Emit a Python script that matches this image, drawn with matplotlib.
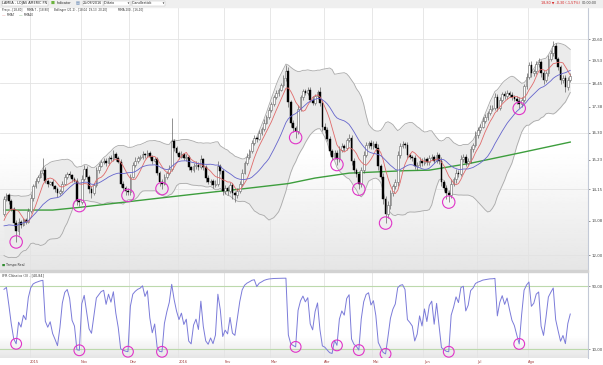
import numpy as np
import pandas as pd
import matplotlib
matplotlib.use("Agg")
import matplotlib.pyplot as plt
from matplotlib.patches import Rectangle
from matplotlib.transforms import blended_transform_factory

# LAME4 daily closes, one list per month (Sep/2015 - Aug/2016)
# closes before the visible window, only needed to seed MMA20 / Bollinger / IFR
warmup_closes = [13.90, 13.70, 13.40, 13.60, 13.20, 12.80, 12.50, 12.20, 12.50, 12.80,
                 12.40, 12.20, 12.50, 12.80, 12.70, 13.00, 12.80, 13.10, 12.90, 13.30]

closes_sep = [13.80, 13.95, 13.75, 13.45, 13.00, 12.75, 13.05, 12.95, 13.10, 13.05, 13.40]
closes_oct = [13.85, 14.25, 14.45, 14.60, 14.75, 14.85, 14.45, 14.35, 14.40, 14.25,
              14.15, 14.00, 14.10, 14.35, 14.60, 14.70, 14.65, 14.50, 14.45, 13.75, 13.70]
closes_nov = [14.50, 14.90, 14.60, 14.15, 14.00, 14.30, 14.85, 15.00, 15.15, 15.20,
              15.10, 15.30, 15.25, 15.45, 15.30, 15.15, 14.35, 14.20, 14.10, 14.05]
closes_dec = [14.60, 15.05, 15.20, 15.30, 15.35, 15.45, 15.40, 15.50, 15.35, 15.20,
              15.25, 14.75, 14.40, 14.35, 14.60, 14.75, 14.90, 15.95, 15.70, 15.50]
closes_jan = [15.35, 15.45, 15.30, 15.35, 14.95, 14.85, 15.00, 15.05, 14.95, 15.25,
              14.95, 14.55, 14.40, 14.45, 14.30, 14.35, 15.00, 14.80, 14.10]
closes_feb = [14.20, 14.10, 14.30, 14.00, 13.95, 14.10, 14.35, 14.75, 15.10, 15.35,
              15.55, 15.90, 16.10, 16.05, 16.30, 16.45, 16.70, 16.95, 17.25]
closes_mar = [17.50, 17.80, 18.00, 18.15, 18.35, 18.70, 19.00, 17.60, 16.70, 16.50,
              16.35, 17.30, 17.80, 18.10, 18.00, 18.15, 17.70, 17.55, 17.85, 18.05, 17.55, 16.55]
closes_apr = [16.40, 16.05, 15.55, 15.35, 15.50, 15.25, 15.60, 15.75, 15.70, 16.00,
              16.10, 15.20, 14.85, 14.70, 14.35, 14.85, 15.40, 15.80, 15.90, 15.75]
closes_may = [15.85, 15.70, 15.00, 14.60, 13.80, 13.30, 13.60, 14.00, 14.25, 14.40,
              15.40, 15.75, 15.85, 15.80, 15.40, 15.35, 15.30, 15.00, 15.05, 15.20, 15.10]
closes_jun = [15.25, 15.15, 15.30, 15.35, 15.20, 15.40, 15.20, 14.40, 14.20, 14.00,
              13.95, 14.35, 14.50, 14.75, 14.70, 15.25, 15.35, 15.10, 15.20, 15.65, 15.80, 16.20]
closes_jul = [16.40, 16.55, 16.80, 16.95, 17.10, 17.30, 17.35, 17.80, 17.35, 17.70,
              17.95, 17.85, 18.00, 17.90, 17.80, 17.75, 17.65, 17.50, 17.70, 18.30, 18.75]
closes_aug = [19.30, 18.90, 19.00, 19.35, 19.45, 18.90, 18.60, 18.90, 19.60, 19.90,
              20.25, 19.60, 19.20, 18.60, 18.70, 18.25, 18.60, 18.80]

# wick lengths in centavos (above body / below body)
upper_wick = [10, 8, 6, 5, 8, 10, 12, 6, 8, 5, 10,
              12, 8, 10, 6, 8, 45, 10, 8, 6, 10, 5, 8, 6, 10, 8, 6, 12, 5, 8, 10, 6,
              15, 12, 8, 6, 10, 8, 12, 10, 6, 8, 10, 6, 12, 15, 8, 6, 10, 8, 6, 10,
              10, 8, 12, 6, 8, 10, 6, 12, 8, 6, 10, 8, 6, 10, 8, 6, 12, 95, 10, 8,
              8, 12, 6, 10, 8, 6, 10, 12, 8, 15, 6, 8, 10, 6, 8, 12, 20, 8, 10,
              10, 8, 12, 6, 8, 10, 8, 12, 10, 15, 8, 12, 10, 8, 12, 10, 15, 8, 12,
              12, 10, 15, 8, 12, 15, 30, 20, 10, 12, 8, 15, 12, 10, 8, 12, 10, 15, 12, 8, 20, 15,
              15, 12, 10, 8, 12, 10, 15, 12, 8, 10, 15, 12, 10, 8, 12, 10, 15, 12, 8, 10,
              12, 10, 15, 8, 12, 10, 15, 12, 8, 10, 15, 12, 10, 8, 12, 10, 8, 12, 10, 15, 8,
              10, 8, 12, 10, 8, 12, 10, 15, 8, 10, 12, 15, 10, 12, 8, 15, 12, 10, 8, 12, 10, 15,
              12, 10, 15, 12, 10, 15, 12, 20, 15, 12, 10, 15, 12, 10, 15, 12, 10, 15, 12, 10, 15,
              15, 20, 12, 15, 18, 12, 15, 10, 18, 15, 25, 15, 12, 10, 15, 12, 15, 12]
lower_wick = [8, 6, 10, 6, 10, 35, 12, 10, 6, 8, 5,
              6, 10, 5, 8, 6, 10, 8, 12, 6, 8, 10, 12, 6, 8, 5, 10, 6, 8, 6, 15, 12,
              8, 6, 10, 12, 15, 6, 8, 10, 6, 8, 10, 6, 8, 5, 10, 6, 12, 10, 15, 12,
              12, 6, 8, 10, 6, 8, 10, 6, 8, 12, 6, 10, 15, 18, 6, 8, 10, 8, 12, 10,
              10, 6, 8, 12, 10, 8, 6, 10, 12, 8, 10, 15, 8, 10, 12, 6, 8, 10, 15,
              12, 15, 10, 18, 25, 12, 8, 10, 6, 8, 10, 6, 8, 12, 6, 10, 8, 6, 10,
              10, 8, 6, 12, 8, 10, 15, 20, 15, 18, 25, 10, 8, 12, 10, 8, 12, 10, 8, 10, 12, 18,
              12, 10, 15, 12, 8, 20, 10, 8, 12, 10, 8, 15, 12, 10, 20, 12, 10, 8, 12, 10,
              10, 12, 15, 10, 18, 30, 15, 12, 10, 8, 12, 10, 8, 12, 10, 8, 12, 10, 15, 8, 10,
              8, 10, 12, 8, 10, 8, 12, 15, 12, 18, 25, 10, 8, 12, 10, 8, 10, 12, 8, 10, 12, 8,
              10, 12, 8, 10, 12, 8, 10, 12, 15, 10, 8, 12, 10, 8, 12, 10, 15, 18, 12, 10, 12,
              12, 15, 10, 12, 15, 18, 20, 12, 10, 12, 15, 10, 15, 20, 15, 20, 12, 10]

months = [closes_sep, closes_oct, closes_nov, closes_dec, closes_jan, closes_feb,
          closes_mar, closes_apr, closes_may, closes_jun, closes_jul, closes_aug]
month_labels = ["2015", "Nov", "Dez", "2016", "Fev", "Mar", "Abr", "Mai", "Jun", "Jul", "Ago"]

# MMA 200 (candle index, value)
mma200_idx = [0, 20, 31, 60, 86, 97, 117, 128, 142, 165, 175, 192, 212, 233]
mma200_val = [13.43, 13.43, 13.52, 13.80, 14.05, 14.15, 14.35, 14.55, 14.73, 14.82,
              14.84, 15.10, 15.49, 15.92]

# candles flagged with a circle (IFR under 10)
signal_idx = [5, 31, 51, 65, 120, 137, 146, 157, 183, 212]

price_ticks = [12.00, 13.08, 14.15, 15.23, 16.30, 17.38, 18.45, 19.53, 20.60]

# ---- indicators ----
close = np.array(sum(months, []))
n = len(close)
assert len(upper_wick) == n and len(lower_wick) == n

series = pd.Series(warmup_closes + list(close))
nw = len(warmup_closes)
opens = series.shift(1).to_numpy()[nw:]
mma7 = series.rolling(7).mean().to_numpy()[nw:]
mma20 = series.rolling(20).mean().to_numpy()[nw:]
sd20 = series.rolling(20).std(ddof=0).to_numpy()[nw:]
bb_up = mma20 + 2 * sd20
bb_lo = mma20 - 2 * sd20

delta = series.diff()
gain = delta.clip(lower=0).ewm(alpha=1 / 3, adjust=False).mean()
loss = (-delta.clip(upper=0)).ewm(alpha=1 / 3, adjust=False).mean()
ifr = (100 - 100 / (1 + gain / loss)).to_numpy()[nw:]

body_lo = np.minimum(opens, close)
body_hi = np.maximum(opens, close)
high = body_hi + np.array(upper_wick) / 100
low = body_lo - np.array(lower_wick) / 100
up = close >= opens

month_starts = np.cumsum([len(m) for m in months])[:-1]
x = np.arange(n)

# ---- figure ----
W, H = 603, 365
fig = plt.figure(figsize=(W / 100, H / 100), dpi=100)
fig.patch.set_facecolor("white")


def box(x0, y0, x1, y1):
    # pixel box (top-left origin) -> figure fraction
    return [x0 / W, 1 - y1 / H, (x1 - x0) / W, (y1 - y0) / H]


def grad_axes(rect, start):
    bg = fig.add_axes(rect)
    t = np.linspace(0, 1, 200)[:, None]
    g = 1 - 0.1 * np.clip((t - start) / (1 - start), 0, 1)
    bg.imshow(g, aspect="auto", cmap="gray", vmin=0, vmax=1, extent=[0, 1, 0, 1])
    bg.axis("off")
    return bg


XMIN, XMAX = -1.65, 240.3

# main price panel
grad_axes(box(0, 7, 588, 270), 0.55)
ax = fig.add_axes(box(0, 7, 588, 270))
ax.set_facecolor("none")
ax.set_yscale("log")
ax.set_xlim(XMIN, XMAX)
ax.set_ylim(11.56, 22.32)

for s in month_starts:
    ax.axvline(s - 0.5, color="#e3e3e3", lw=0.6, zorder=0.5)
for v in price_ticks[::2]:
    ax.axhline(v, color="#e3e3e3", lw=0.6, zorder=0.5)

ax.fill_between(x, bb_lo, bb_up, color="#ebebeb", lw=0, zorder=1)
ax.plot(x, bb_up, color="#a9a9a9", lw=0.6, zorder=2)
ax.plot(x, bb_lo, color="#a9a9a9", lw=0.6, zorder=2)
ax.plot(mma200_idx, mma200_val, color="#3d9e3d", lw=1.0, zorder=2.5)

ax.vlines(x, low, high, color="#555555", lw=0.45, zorder=3)
hgt = np.maximum(body_hi - body_lo, 0.02)
ax.bar(x[up], hgt[up], bottom=body_lo[up], width=0.7, color="white",
       edgecolor="#666666", lw=0.4, zorder=4)
ax.bar(x[~up], hgt[~up], bottom=body_lo[~up], width=0.7, color="black",
       edgecolor="black", lw=0.3, zorder=4)

ax.plot(x, mma7, color="#e06a6a", lw=0.6, zorder=5)
ax.plot(x, mma20, color="#6464cc", lw=0.6, zorder=5)

ax.scatter(signal_idx, low[signal_idx], s=80, facecolors="none",
           edgecolors="#e034c8", linewidths=0.8, zorder=6)

ax.set_yticks(price_ticks, labels=[f"{v:.2f}".replace(".", ",") for v in price_ticks])
ax.minorticks_off()
ax.yaxis.tick_right()
ax.tick_params(axis="y", labelsize=2.8, length=1.5, width=0.4, pad=1, colors="#444444")
ax.set_xticks([])
for side in ["top", "left", "bottom"]:
    ax.spines[side].set_visible(False)
ax.spines["right"].set_color("#c3c9d6")
ax.spines["right"].set_linewidth(0.8)

# IFR panel
grad_axes(box(0, 272, 588, 358), 0.75)
ax2 = fig.add_axes(box(0, 272, 588, 358))
ax2.set_facecolor("none")
ax2.set_xlim(XMIN, XMAX)
ax2.set_ylim(-1.4, 107.8)
for s in month_starts:
    ax2.axvline(s - 0.5, color="#e3e3e3", lw=0.6, zorder=0.5)
ax2.axhline(90, color="#bcd9ac", lw=0.8, zorder=1)
ax2.axhline(10, color="#bcd9ac", lw=0.8, zorder=1)
ax2.plot(x, ifr, color="#7b7bd9", lw=0.7, zorder=3)
ax2.scatter(signal_idx, ifr[signal_idx], s=60, facecolors="none",
            edgecolors="#e034c8", linewidths=0.8, zorder=4)
ax2.set_yticks([10, 90], labels=["10,00", "90,00"])
ax2.yaxis.tick_right()
ax2.tick_params(axis="y", labelsize=2.8, length=1.5, width=0.4, pad=1, colors="#444444")
ax2.set_xticks([])
for side in ["top", "left", "bottom"]:
    ax2.spines[side].set_visible(False)
ax2.spines["right"].set_color("#c3c9d6")
ax2.spines["right"].set_linewidth(0.8)

trans = blended_transform_factory(ax2.transData, ax2.transAxes)
for s, lab in zip(month_starts, month_labels):
    ax2.text(s - 0.3, -0.05, lab, transform=trans, fontsize=2.6, color="#a33a3a",
             ha="left", va="center")
ax2.text(0.003, 0.985, "IFR Clássico (3) - [40,84]", transform=ax2.transAxes,
         fontsize=2.4, color="#333333", ha="left", va="top")

# separator between panels
fig.patches.append(Rectangle((0, 1 - 272 / H), 588 / W, 2 / H, transform=fig.transFigure,
                             color="#d2d2d2", zorder=0))

# toolbar
fig.patches.append(Rectangle((0, 1 - 6.5 / H), 1, 6.5 / H, transform=fig.transFigure,
                             color="#efefef", zorder=0))
ty = 1 - 3 / H
tb = dict(boxstyle="square,pad=0.15", fc="white", ec="#bbbbbb", lw=0.3)
fig.text(2 / W, ty, "LAMEA - LOJAS AMERIC PN", fontsize=2.4, color="#222222", va="center", bbox=tb)
fig.text(51 / W, ty, "\u25a0", fontsize=3, color="#6cb33e", va="center")
fig.text(57 / W, ty, "Indicator", fontsize=2.4, color="#222222", va="center")
fig.text(76 / W, ty, "\u25a4", fontsize=3, color="#5a7fb0", va="center")
fig.text(83 / W, ty, "25/08/2016", fontsize=2.4, color="#222222", va="center", bbox=tb)
fig.text(104 / W, ty, "Diário            \u25be", fontsize=2.4, color="#222222", va="center", bbox=tb)
fig.text(132 / W, ty, "Candlestick          \u25be", fontsize=2.4, color="#222222", va="center", bbox=tb)
fig.text(580 / W, ty, "18,80 \u25bc -0,30 (-1,57%)", fontsize=2.4, color="#d62020", va="center", ha="right")
fig.text(582 / W, ty, "00:00:00", fontsize=2.4, color="#444444", va="center")

# legend lines in the price panel
ly = 1 - 9.5 / H
fig.text(2 / W, ly, "Preço - [18,80]", fontsize=2.0, color="#333333", va="center")
fig.text(27 / W, ly, "MMA 7 - [18,80]", fontsize=2.0, color="#333333", va="center")
fig.text(54 / W, ly, "Bollinger (21,2) - [18,04  19,13  20,20]", fontsize=2.0, color="#333333", va="center")
fig.text(118 / W, ly, "MMA 200 - [16,10]", fontsize=2.0, color="#333333", va="center")
ly2 = 1 - 15 / H
fig.text(2 / W, ly2, "\u2014", fontsize=2.6, color="#e06a6a", va="center")
fig.text(7 / W, ly2, "MMA7", fontsize=2.0, color="#333333", va="center")
fig.text(19 / W, ly2, "\u2014", fontsize=2.6, color="#3d9e3d", va="center")
fig.text(24 / W, ly2, "MMA20", fontsize=2.0, color="#333333", va="center")

fig.text(2 / W, 1 - 265 / H, "\u25a0", fontsize=2.4, color="#2e8b2e", va="center")
fig.text(6 / W, 1 - 265 / H, "Tempo Real", fontsize=2.3, color="#333333", va="center")

fig.savefig("out.png", dpi=100)
